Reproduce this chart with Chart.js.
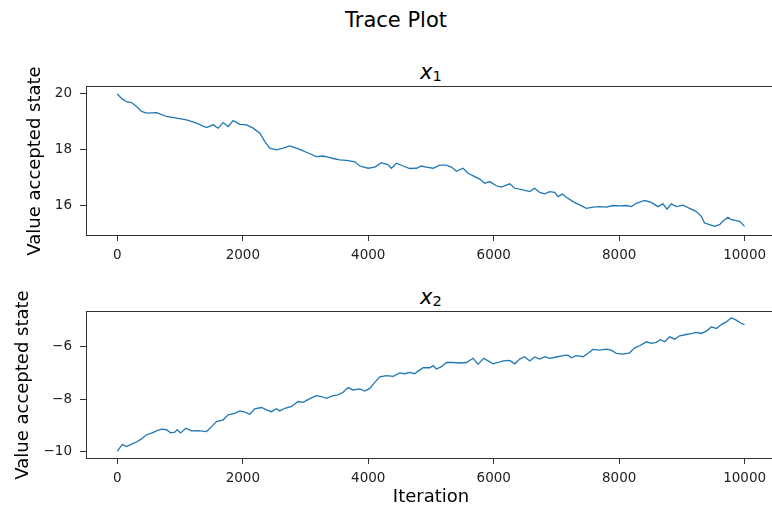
<!DOCTYPE html>
<html>
<head>
<meta charset="utf-8">
<title>Trace Plot</title>
<script src="https://cdn.jsdelivr.net/npm/chart.js@4.4.1/dist/chart.umd.min.js"></script>
<style>
  body { margin: 0; width: 772px; height: 515px; overflow: hidden; background: #fff; position: relative;
         font-family: "DejaVu Sans", sans-serif; color: #000; }
  .box { position: absolute; left: 0; width: 778px; }
  .ttl { position: absolute; width: 200px; text-align: center; white-space: nowrap; line-height: 21px; }
  .main { left: 296px; top: 10px; font-size: 21px; }
  .sub { left: 331px; font-size: 21px; }
  .sub i { font-style: italic; }
  .sub span { font-size: 14.7px; position: relative; top: 2px; }
</style>
</head>
<body>
<div class="ttl main">Trace Plot</div>
<div class="ttl sub" style="top:62px"><i>x</i><span>1</span></div>
<div class="ttl sub" style="top:287px"><i>x</i><span>2</span></div>
<div class="box" style="top:60px;height:210px"><canvas id="chartX1"></canvas></div>
<div class="box" style="top:290px;height:225px"><canvas id="chartX2"></canvas></div>
<script>
'use strict';
// accepted states of the sampler, read every ~80-160 iterations
let x1Iter = [0, 66, 146, 226, 305, 385, 465, 624, 784, 943, 1102, 1262, 1421, 1527, 1607, 1687, 1766, 1846, 1952,
    2058, 2165, 2271, 2351, 2430, 2537, 2643, 2749, 2908, 3068, 3174, 3280, 3360, 3440, 3546, 3652, 3785, 3865, 3997,
    4104, 4210, 4316, 4369, 4449, 4555, 4661, 4768, 4847, 4927, 5033, 5139, 5246, 5325, 5405, 5511, 5591, 5697, 5777,
    5856, 5936, 6042, 6122, 6255, 6335, 6467, 6574, 6653, 6733, 6813, 6892, 6972, 7025, 7094, 7158, 7264, 7370, 7477,
    7583, 7689, 7795, 7902, 8008, 8114, 8194, 8273, 8406, 8512, 8619, 8698, 8762, 8831, 8911, 9017, 9123, 9230, 9309,
    9362, 9442, 9522, 9601, 9665, 9734, 9787, 9867, 9920, 9999];
let x1Value = [20.00, 19.84, 19.72, 19.69, 19.55, 19.37, 19.31, 19.33, 19.19, 19.13, 19.07, 18.95, 18.79, 18.89, 18.77,
    18.97, 18.83, 19.04, 18.91, 18.89, 18.77, 18.59, 18.29, 18.05, 17.99, 18.05, 18.13, 18.01, 17.85, 17.75, 17.77,
    17.73, 17.68, 17.63, 17.61, 17.56, 17.41, 17.33, 17.37, 17.53, 17.45, 17.33, 17.51, 17.41, 17.32, 17.33, 17.41,
    17.37, 17.33, 17.44, 17.44, 17.37, 17.22, 17.33, 17.15, 17.03, 16.94, 16.79, 16.85, 16.70, 16.65, 16.77, 16.61,
    16.55, 16.49, 16.61, 16.46, 16.41, 16.49, 16.46, 16.31, 16.40, 16.29, 16.13, 16.01, 15.89, 15.93, 15.95, 15.93,
    15.99, 15.98, 15.99, 15.95, 16.07, 16.17, 16.10, 15.95, 16.05, 15.86, 16.05, 15.95, 16.00, 15.89, 15.77, 15.60,
    15.36, 15.30, 15.24, 15.30, 15.45, 15.57, 15.48, 15.45, 15.42, 15.24];

let x2Iter = [0, 40, 82, 146, 226, 305, 385, 465, 545, 624, 704, 784, 847, 916, 954, 1007, 1092, 1182, 1288, 1421,
    1501, 1580, 1687, 1766, 1872, 1952, 2032, 2111, 2191, 2297, 2377, 2457, 2537, 2590, 2669, 2776, 2882, 2961, 3068,
    3174, 3254, 3333, 3440, 3519, 3599, 3679, 3758, 3865, 3944, 4024, 4104, 4183, 4289, 4396, 4502, 4582, 4661, 4741,
    4794, 4874, 4980, 5033, 5086, 5166, 5246, 5352, 5458, 5564, 5671, 5750, 5840, 5910, 5989, 6069, 6149, 6255, 6335,
    6414, 6494, 6574, 6653, 6733, 6813, 6892, 6999, 7105, 7184, 7237, 7317, 7424, 7503, 7583, 7689, 7795, 7875, 7955,
    8061, 8167, 8247, 8327, 8433, 8512, 8592, 8656, 8725, 8805, 8884, 8964, 9070, 9150, 9230, 9309, 9389, 9469, 9548,
    9628, 9708, 9787, 9867, 9947, 9999];
let x2Value = [-10.00, -9.85, -9.74, -9.81, -9.72, -9.64, -9.52, -9.36, -9.30, -9.21, -9.15, -9.17, -9.29, -9.26,
    -9.17, -9.29, -9.11, -9.21, -9.20, -9.24, -9.05, -8.86, -8.79, -8.60, -8.54, -8.45, -8.50, -8.58, -8.37, -8.32,
    -8.41, -8.48, -8.37, -8.45, -8.35, -8.28, -8.09, -8.12, -7.98, -7.87, -7.90, -7.97, -7.87, -7.84, -7.74, -7.56,
    -7.65, -7.61, -7.69, -7.59, -7.36, -7.15, -7.10, -7.13, -7.00, -7.03, -6.98, -7.03, -6.93, -6.80, -6.80, -6.72,
    -6.85, -6.76, -6.60, -6.60, -6.62, -6.60, -6.44, -6.67, -6.44, -6.54, -6.65, -6.60, -6.54, -6.52, -6.65, -6.47,
    -6.38, -6.54, -6.39, -6.47, -6.38, -6.44, -6.39, -6.34, -6.32, -6.42, -6.34, -6.38, -6.25, -6.10, -6.13, -6.09,
    -6.13, -6.25, -6.28, -6.23, -6.04, -5.96, -5.81, -5.87, -5.83, -5.73, -5.81, -5.62, -5.71, -5.58, -5.53, -5.50,
    -5.45, -5.49, -5.40, -5.24, -5.30, -5.15, -5.05, -4.89, -4.98, -5.11, -5.15];

let iterTicks = [0, 2000, 4000, 6000, 8000, 10000];
let x1Ticks = [16, 18, 20];
let x2Ticks = [-10, -8, -6];

const lineColor = '#1f77b4';
const spineColor = '#333';
const tickFont = {family: 'DejaVu Sans', size: 13.5};
const labelFont = {family: 'DejaVu Sans', size: 18};

// box round the plotting area (top and right spines too)
const frame = {
    id: 'frame',
    afterDraw(chart) {
        let a = chart.chartArea;
        let ctx = chart.ctx;
        ctx.save();
        ctx.strokeStyle = spineColor;
        ctx.lineWidth = 1;
        ctx.strokeRect(Math.round(a.left) + 0.5, Math.round(a.top) - 0.5,
            Math.round(a.right - a.left), Math.round(a.bottom - a.top) + 1);
        ctx.restore();
    }
};

function fmt(v) {
    return v < 0 ? '\u2212' + Math.abs(v) : String(v);
}

function traceChart(id, iters, values, yMin, yMax, yTicks, opts) {
    let points = iters.map((it, i) => ({x: it, y: values[i]}));
    return new Chart(document.getElementById(id), {
        type: 'line',
        data: {
            datasets: [{
                data: points,
                borderColor: lineColor,
                borderWidth: 1.3,
                pointRadius: 0,
                tension: 0
            }]
        },
        plugins: [frame],
        options: {
            responsive: true,
            maintainAspectRatio: false,
            animation: false,
            layout: {padding: {top: opts.padTop, right: 2, left: 0, bottom: 0}},
            plugins: {legend: {display: false}, tooltip: {enabled: false}},
            scales: {
                x: {
                    type: 'linear',
                    min: -500,
                    max: 10500,
                    afterBuildTicks: (s) => { s.ticks = iterTicks.map(v => ({value: v})); },
                    afterFit: (s) => { s.height = opts.xHeight; },
                    border: {display: false},
                    grid: {drawOnChartArea: false, drawTicks: true, tickLength: 6, color: spineColor},
                    ticks: {font: tickFont, color: '#222', padding: 6, maxRotation: 0, callback: fmt},
                    title: {
                        display: !!opts.xTitle,
                        text: opts.xTitle || '',
                        font: labelFont,
                        color: '#000',
                        padding: {top: 0, bottom: 7}
                    }
                },
                y: {
                    min: yMin,
                    max: yMax,
                    afterBuildTicks: (s) => { s.ticks = yTicks.map(v => ({value: v})); },
                    afterFit: (s) => { s.width = 86; },
                    border: {display: false},
                    grid: {drawOnChartArea: false, drawTicks: true, tickLength: 6, color: spineColor},
                    ticks: {font: tickFont, color: '#222', padding: 8, callback: fmt},
                    title: {
                        display: true,
                        text: 'Value accepted state',
                        font: labelFont,
                        color: '#000',
                        padding: {top: opts.yTitlePad, bottom: 0}
                    }
                }
            }
        }
    });
}

traceChart('chartX1', x1Iter, x1Value, 14.93, 20.25, x1Ticks, {padTop: 27, xHeight: 35, yTitlePad: 25});
traceChart('chartX2', x2Iter, x2Value, -10.25, -4.67, x2Ticks, {padTop: 22, xHeight: 57, yTitlePad: 13, xTitle: 'Iteration'});
</script>
</body>
</html>
